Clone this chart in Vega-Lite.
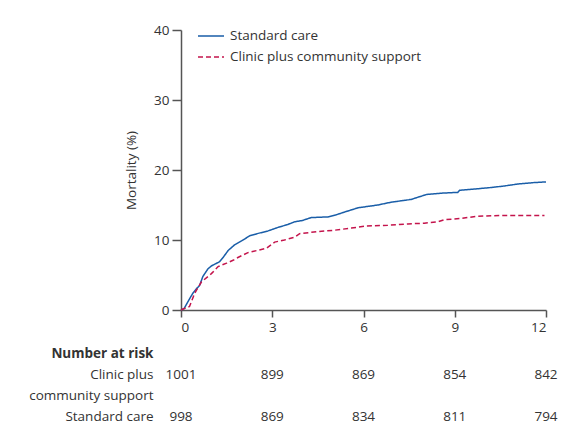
{
  "$schema": "https://vega.github.io/schema/vega-lite/v6.json",
  "padding": {"left": 28, "top": 22, "right": 10, "bottom": 8},
  "background": "white",
  "bounds": "flush",
  "spacing": 33,
  "config": {
    "font": "Open Sans",
    "view": {"stroke": null},
    "axis": {
      "labelFont": "Open Sans",
      "labelFontSize": 13.5,
      "labelColor": "#333333",
      "titleFont": "Open Sans",
      "titleFontSize": 13.5,
      "titleColor": "#333333",
      "titleFontWeight": "normal",
      "domainColor": "#555555",
      "tickColor": "#555555",
      "domainWidth": 1.5,
      "tickWidth": 1.5,
      "grid": false
    },
    "legend": {"labelFont": "Open Sans"}
  },
  "datasets": {
    "curves": [
      {"group": "Standard care", "t": 0, "m": 0},
      {"group": "Standard care", "t": 0.1, "m": 0.2},
      {"group": "Standard care", "t": 0.23, "m": 1.2},
      {"group": "Standard care", "t": 0.39, "m": 2.4},
      {"group": "Standard care", "t": 0.5, "m": 3.0},
      {"group": "Standard care", "t": 0.61, "m": 3.5},
      {"group": "Standard care", "t": 0.72, "m": 4.8},
      {"group": "Standard care", "t": 0.89, "m": 5.9},
      {"group": "Standard care", "t": 1.0, "m": 6.3},
      {"group": "Standard care", "t": 1.27, "m": 6.9},
      {"group": "Standard care", "t": 1.4, "m": 7.6},
      {"group": "Standard care", "t": 1.55, "m": 8.5},
      {"group": "Standard care", "t": 1.76, "m": 9.3},
      {"group": "Standard care", "t": 2.0, "m": 9.9},
      {"group": "Standard care", "t": 2.26, "m": 10.6},
      {"group": "Standard care", "t": 2.5, "m": 10.9},
      {"group": "Standard care", "t": 2.86, "m": 11.3},
      {"group": "Standard care", "t": 3.19, "m": 11.8},
      {"group": "Standard care", "t": 3.5, "m": 12.2},
      {"group": "Standard care", "t": 3.74, "m": 12.6},
      {"group": "Standard care", "t": 4.0, "m": 12.8},
      {"group": "Standard care", "t": 4.28, "m": 13.2},
      {"group": "Standard care", "t": 4.83, "m": 13.3},
      {"group": "Standard care", "t": 5.1, "m": 13.6},
      {"group": "Standard care", "t": 5.38, "m": 14.0},
      {"group": "Standard care", "t": 5.82, "m": 14.6},
      {"group": "Standard care", "t": 6.47, "m": 15.0},
      {"group": "Standard care", "t": 6.91, "m": 15.4},
      {"group": "Standard care", "t": 7.57, "m": 15.8},
      {"group": "Standard care", "t": 8.07, "m": 16.5},
      {"group": "Standard care", "t": 8.6, "m": 16.7},
      {"group": "Standard care", "t": 9.1, "m": 16.8},
      {"group": "Standard care", "t": 9.16, "m": 17.1},
      {"group": "Standard care", "t": 9.7, "m": 17.3},
      {"group": "Standard care", "t": 10.2, "m": 17.5},
      {"group": "Standard care", "t": 10.6, "m": 17.7},
      {"group": "Standard care", "t": 11.08, "m": 18.0},
      {"group": "Standard care", "t": 11.6, "m": 18.2},
      {"group": "Standard care", "t": 12.0, "m": 18.3},
      {"group": "Clinic plus community support", "t": 0, "m": 0},
      {"group": "Clinic plus community support", "t": 0.05, "m": 0.1},
      {"group": "Clinic plus community support", "t": 0.28, "m": 0.5},
      {"group": "Clinic plus community support", "t": 0.45, "m": 2.4},
      {"group": "Clinic plus community support", "t": 0.67, "m": 4.0},
      {"group": "Clinic plus community support", "t": 1.0, "m": 5.2},
      {"group": "Clinic plus community support", "t": 1.22, "m": 6.2},
      {"group": "Clinic plus community support", "t": 1.5, "m": 6.7},
      {"group": "Clinic plus community support", "t": 1.71, "m": 7.1},
      {"group": "Clinic plus community support", "t": 1.87, "m": 7.5},
      {"group": "Clinic plus community support", "t": 2.2, "m": 8.2},
      {"group": "Clinic plus community support", "t": 2.5, "m": 8.5},
      {"group": "Clinic plus community support", "t": 2.8, "m": 8.8},
      {"group": "Clinic plus community support", "t": 3.08, "m": 9.7},
      {"group": "Clinic plus community support", "t": 3.4, "m": 10.0},
      {"group": "Clinic plus community support", "t": 3.74, "m": 10.4},
      {"group": "Clinic plus community support", "t": 3.9, "m": 10.9},
      {"group": "Clinic plus community support", "t": 4.5, "m": 11.2},
      {"group": "Clinic plus community support", "t": 5.05, "m": 11.4},
      {"group": "Clinic plus community support", "t": 5.6, "m": 11.7},
      {"group": "Clinic plus community support", "t": 6.1, "m": 12.0},
      {"group": "Clinic plus community support", "t": 6.8, "m": 12.1},
      {"group": "Clinic plus community support", "t": 7.46, "m": 12.3},
      {"group": "Clinic plus community support", "t": 8.0, "m": 12.4},
      {"group": "Clinic plus community support", "t": 8.45, "m": 12.6},
      {"group": "Clinic plus community support", "t": 8.67, "m": 12.9},
      {"group": "Clinic plus community support", "t": 9.22, "m": 13.1},
      {"group": "Clinic plus community support", "t": 9.76, "m": 13.4},
      {"group": "Clinic plus community support", "t": 10.5, "m": 13.5},
      {"group": "Clinic plus community support", "t": 11.95, "m": 13.5}
    ],
    "risk": [
      {"row": "Clinic plus", "t": 0, "n": 1001},
      {"row": "Clinic plus", "t": 3, "n": 899},
      {"row": "Clinic plus", "t": 6, "n": 869},
      {"row": "Clinic plus", "t": 9, "n": 854},
      {"row": "Clinic plus", "t": 12, "n": 842},
      {"row": "Standard care", "t": 0, "n": 998},
      {"row": "Standard care", "t": 3, "n": 869},
      {"row": "Standard care", "t": 6, "n": 834},
      {"row": "Standard care", "t": 9, "n": 811},
      {"row": "Standard care", "t": 12, "n": 794}
    ]
  },
  "vconcat": [
    {
      "width": 365,
      "height": 280,
      "data": {"name": "curves"},
      "mark": {"type": "line", "strokeWidth": 1.5, "interpolate": "linear"},
      "encoding": {
        "x": {
          "field": "t", "type": "quantitative",
          "scale": {"domain": [0, 12], "nice": false},
          "axis": {"values": [0, 3, 6, 9, 12], "title": null, "tickSize": 7, "labelPadding": 3}
        },
        "y": {
          "field": "m", "type": "quantitative",
          "scale": {"domain": [0, 40], "nice": false},
          "axis": {"values": [0, 10, 20, 30, 40], "title": "Mortality (%)", "tickSize": 9, "labelPadding": 3, "titlePadding": 15}
        },
        "color": {
          "field": "group", "type": "nominal",
          "scale": {"domain": ["Standard care", "Clinic plus community support"], "range": ["#1a5ea8", "#c4144c"]},
          "legend": {"title": null, "orient": "none", "legendX": 16, "legendY": -8, "symbolType": "stroke", "symbolSize": 676, "symbolStrokeWidth": 1.5, "labelFontSize": 13.5, "labelColor": "#333333", "labelLimit": 0, "rowPadding": -5, "labelOffset": 5}
        },
        "strokeDash": {
          "field": "group", "type": "nominal",
          "scale": {"domain": ["Standard care", "Clinic plus community support"], "range": [[1, 0], [5, 3]]},
          "legend": {"title": null, "orient": "none", "legendX": 16, "legendY": -8, "symbolType": "stroke", "symbolSize": 676, "symbolStrokeWidth": 1.5, "labelFontSize": 13.5, "labelColor": "#333333", "labelLimit": 0, "rowPadding": -5, "labelOffset": 5}
        }
      }
    },
    {
      "width": 365,
      "height": 84,
      "data": {"name": "risk"},
      "mark": {"type": "text", "fontSize": 13.5, "color": "#333333", "font": "Open Sans"},
      "encoding": {
        "x": {"field": "t", "type": "quantitative", "scale": {"domain": [0, 12], "nice": false}, "axis": null},
        "y": {
          "field": "row", "type": "nominal",
          "scale": {"domain": ["Number at risk", "Clinic plus", "community support", "Standard care"], "padding": 0.5},
          "axis": {
            "title": null, "domain": false, "ticks": false, "tickSize": 0, "labelPadding": 28,
            "labelFontWeight": {"condition": {"test": "datum.value === 'Number at risk'", "value": "bold"}, "value": "normal"}
          }
        },
        "text": {"field": "n", "type": "quantitative", "format": "d"}
      }
    }
  ]
}
